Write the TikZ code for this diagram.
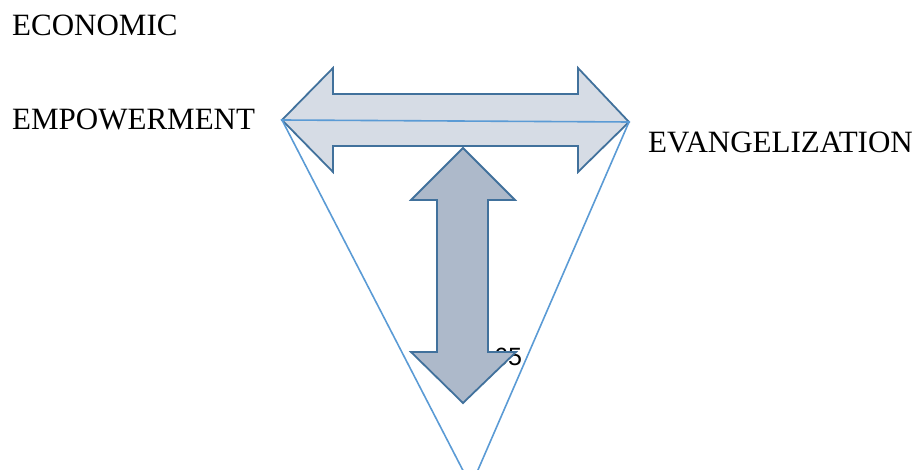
\documentclass[tikz,border=0pt]{standalone}
\usepackage{fontspec}
\setmainfont{Liberation Serif}
\newfontfamily\labelsans{Liberation Sans}
\definecolor{arrowline}{HTML}{41719C}
\definecolor{lightfill}{HTML}{D6DCE5}
\definecolor{darkfill}{HTML}{ADB9CA}
\definecolor{triline}{HTML}{5B9BD5}
\tikzset{
  word/.style={anchor=base west, inner sep=0pt, font=\fontsize{31}{31}\selectfont},
  fatarrow/.style={draw=arrowline, line width=1.8pt, line join=miter},
  edge/.style={draw=triline, line width=1.6pt},
}
\begin{document}
\begin{tikzpicture}[x=1pt, y=-1pt]
  \useasboundingbox (0,0) rectangle (919,470);

  % corners of the triangle
  \coordinate (L) at (282,120);
  \coordinate (R) at (629,122);
  \coordinate (B) at (471,486);

  % labels
  \node[word] (eco) at (12,36) {ECONOMIC};
  \node[word] (emp) at (12,130) {EMPOWERMENT};
  \node[word] (eva) at (648,153) {EVANGELIZATION};
  \node[anchor=base west, inner sep=0pt, font=\labelsans\fontsize{25}{25}\selectfont] (num) at (494,366) {65};

  % horizontal double arrow
  \path[fatarrow, fill=lightfill]
    (L) -- (333,68) -- (333,94) -- (578,94) -- (578,68) -- (R)
    -- (578,172) -- (578,146) -- (333,146) -- (333,172) -- cycle;

  % vertical double arrow
  \path[fatarrow, fill=darkfill]
    (463,148) -- (515,200) -- (488,200) -- (488,352) -- (516,352)
    -- (463,403) -- (411,352) -- (437,352) -- (437,200) -- (411,200) -- cycle;

  % triangle
  \begin{scope}
    \clip (0,0) rectangle (919,470);
    \draw[edge] (L) -- (R) -- (B) -- cycle;
  \end{scope}
\end{tikzpicture}
\end{document}
